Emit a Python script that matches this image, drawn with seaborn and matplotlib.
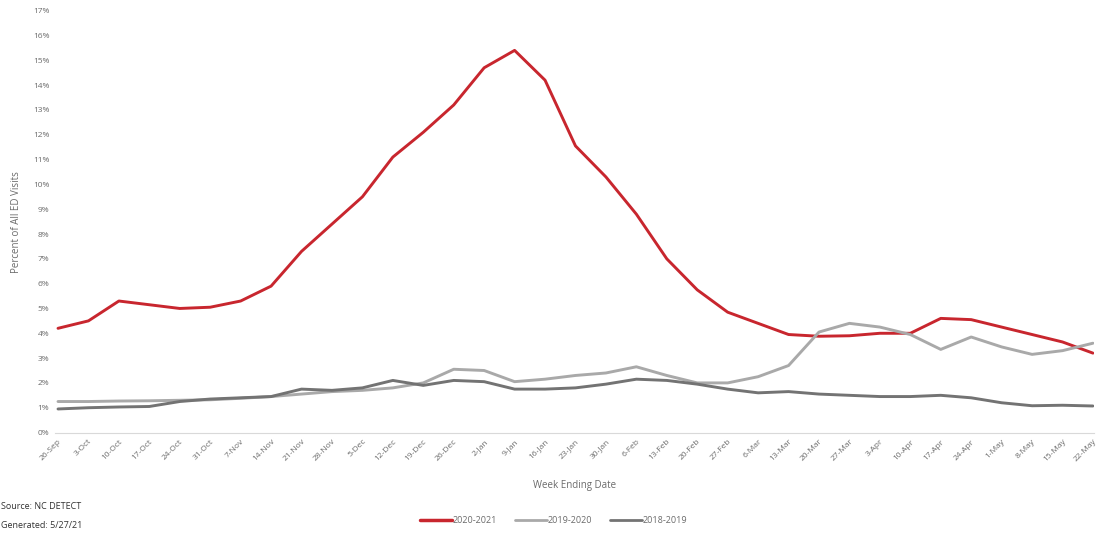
import pandas as pd
import numpy as np
import matplotlib
matplotlib.use("Agg")
import matplotlib.pyplot as plt
import seaborn as sns
from matplotlib.ticker import PercentFormatter

weeks = ["26-Sep", "3-Oct", "10-Oct", "17-Oct", "24-Oct", "31-Oct", "7-Nov", "14-Nov",
         "21-Nov", "28-Nov", "5-Dec", "12-Dec", "19-Dec", "26-Dec", "2-Jan", "9-Jan",
         "16-Jan", "23-Jan", "30-Jan", "6-Feb", "13-Feb", "20-Feb", "27-Feb", "6-Mar",
         "13-Mar", "20-Mar", "27-Mar", "3-Apr", "10-Apr", "17-Apr", "24-Apr", "1-May",
         "8-May", "15-May", "22-May"]

s2020 = [4.2, 4.5, 5.3, 5.15, 5.0, 5.05, 5.3, 5.9, 7.3, 8.4, 9.5, 11.1, 12.1, 13.2,
         14.7, 15.4, 14.2, 11.55, 10.3, 8.8, 7.0, 5.75, 4.85, 4.4, 3.95, 3.88, 3.9,
         4.0, 4.0, 4.6, 4.55, 4.25, 3.95, 3.65, 3.2]
s2019 = [1.25, 1.25, 1.27, 1.28, 1.3, 1.32, 1.38, 1.45, 1.55, 1.65, 1.7, 1.8, 2.0,
         2.55, 2.5, 2.05, 2.15, 2.3, 2.4, 2.65, 2.3, 2.0, 2.0, 2.25, 2.7, 4.05, 4.4,
         4.25, 3.95, 3.35, 3.85, 3.45, 3.15, 3.3, 3.6]
s2018 = [0.95, 1.0, 1.03, 1.05, 1.25, 1.35, 1.4, 1.45, 1.75, 1.7, 1.8, 2.1, 1.9, 2.1,
         2.05, 1.75, 1.75, 1.8, 1.95, 2.15, 2.1, 1.95, 1.75, 1.6, 1.65, 1.55, 1.5,
         1.45, 1.45, 1.5, 1.4, 1.2, 1.08, 1.1, 1.07]

seasons = ["2020-2021", "2019-2020", "2018-2019"]

df = pd.DataFrame({
    "week": list(range(len(weeks))) * 3,
    "pct": s2020 + s2019 + s2018,
    "season": np.repeat(seasons, len(weeks)),
})

sns.set_style("white")
plt.rcParams["font.family"] = ["Open Sans", "DejaVu Sans"]

txt = "#6b6b6b"
fig, ax = plt.subplots(figsize=(10.97, 5.34), dpi=100)
fig.subplots_adjust(left=0.0501, right=0.9977, top=0.98, bottom=0.19)

pal = {"2020-2021": "#c8262e", "2019-2020": "#a9a9a9", "2018-2019": "#737373"}
sns.lineplot(data=df, x="week", y="pct", hue="season", palette=pal, ax=ax,
             linewidth=2.1, legend=False)

ax.set_ylim(0, 17)
ax.set_yticks(range(0, 18))
ax.yaxis.set_major_formatter(PercentFormatter(decimals=0))
ax.set_xticks(range(len(weeks)))
ax.set_xticklabels(weeks, rotation=45, ha="right", rotation_mode="anchor")
ax.tick_params(axis="both", labelsize=6, colors=txt, length=0, pad=4)
ax.set_xticks(np.arange(0.5, len(weeks) - 1, 1), minor=True)
ax.tick_params(axis="x", which="minor", length=4, color="#d9d9d9")
ax.set_xlim(-0.1, len(weeks) - 0.95)

for side in ["top", "right", "left"]:
    ax.spines[side].set_visible(False)
ax.spines["bottom"].set_color("#d9d9d9")

ax.set_ylabel("Percent of All ED Visits", fontsize=7, color=txt, labelpad=8)
ax.set_xlabel("Week Ending Date", fontsize=7, color=txt, labelpad=12)

handles = [plt.Line2D([], [], color=pal[s], lw=2.5 if s == "2020-2021" else 2) for s in seasons]
fig.legend(handles, seasons, loc="center", bbox_to_anchor=(0.505, 0.025), ncol=3,
           frameon=False, fontsize=6.5, labelcolor=txt, handlelength=3.5,
           handletextpad=0.1, columnspacing=2)

fig.text(0.001, 0.046, "Source: NC DETECT", fontsize=6.5, color="#333333")
fig.text(0.001, 0.012, "Generated: 5/27/21", fontsize=6.5, color="#333333")

plt.savefig("out.png", dpi=100)
